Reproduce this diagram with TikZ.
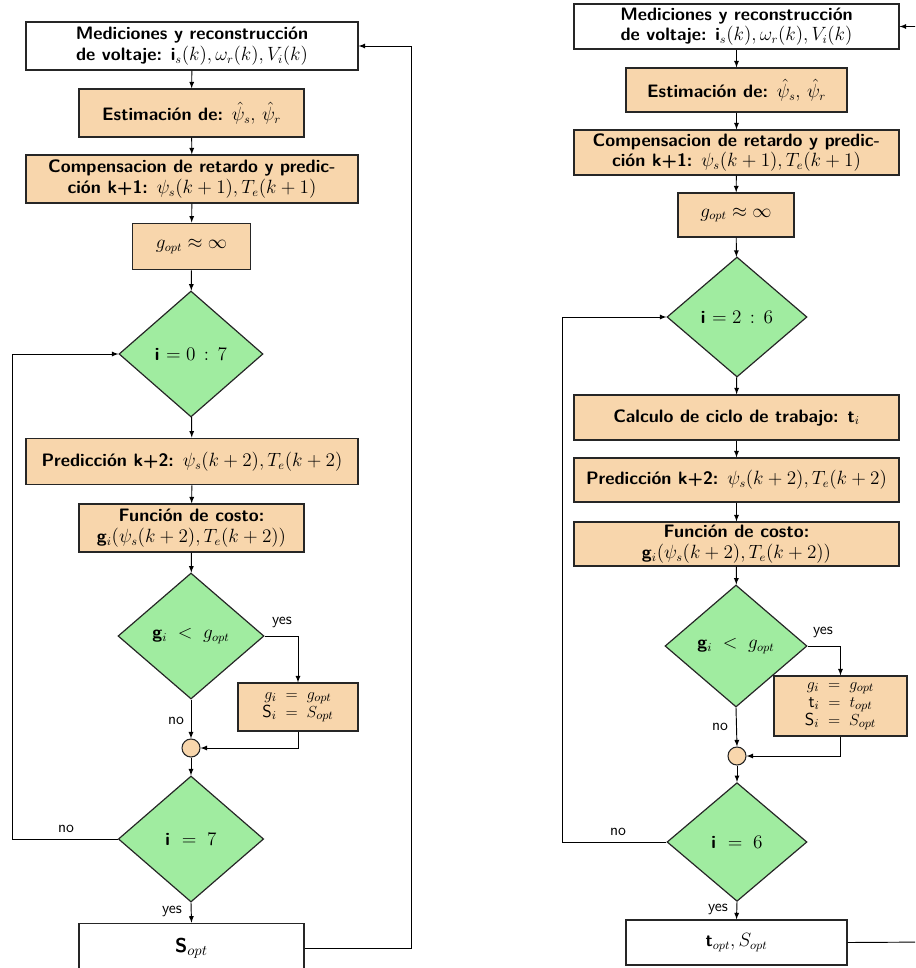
\documentclass[tikz,border=0pt]{standalone}
\usepackage{fontspec}
\usepackage{amsmath}
\usepackage{tikz}
\usetikzlibrary{arrows,shapes.geometric}

\definecolor{naranja}{RGB}{248,214,172}
\definecolor{verde}{RGB}{160,236,160}

\tikzset{
  caja/.style={draw=black!85, line width=0.9pt, fill=naranja, align=center, inner sep=2pt,
    font=\sffamily\bfseries\fontsize{13.5}{15.5}\selectfont},
  blanco/.style={caja, fill=white},
  rombo/.style={diamond, draw=black!85, line width=0.9pt, fill=verde, inner sep=0pt,
    font=\sffamily\bfseries\fontsize{13.5}{15.5}\selectfont},
  asigna/.style={caja, font=\sffamily\fontsize{13}{13.5}\selectfont},
  union/.style={circle, draw=black!85, line width=0.8pt, fill=naranja, minimum size=13.5pt, inner sep=0pt},
  flecha/.style={-latex, line width=0.7pt},
  etiq/.style={font=\sffamily\fontsize{12}{14}\selectfont, inner sep=1pt}
}

\begin{document}
\begin{tikzpicture}[x=0.75pt,y=0.75pt,yscale=-1,xscale=1]
\useasboundingbox (0,0) rectangle (915,968);
\clip (0,0) rectangle (915,968);

%%% left chart: i = 0:7
% Text Node
\node[blanco, minimum width=249pt, minimum height=36pt] (m1) at (192,46)
  {Mediciones y reconstrucción\\de voltaje: \textbf{i}$_s(k),\omega_r(k),V_i(k)$};
% Text Node
\node[caja, minimum width=168.75pt, minimum height=36pt] (e1) at (191.5,113)
  {Estimación de: $\hat{\psi}_s,\,\hat{\psi}_r$};
% Text Node
\node[caja, minimum width=249pt, minimum height=36pt] (c1) at (192,179)
  {Compensacion de retardo y predic-\\ción k+1: $\psi_s(k+1),T_e(k+1)$};
% Text Node
\node[caja, minimum width=89pt, minimum height=35pt] (g1) at (191.5,246.5)
  {$g_{opt}\approx\infty$};
%Shape: Diamond
\node[rombo, minimum width=108pt, minimum height=94.5pt] (d1) at (191,354)
  {i $=0\,:\,7$};
% Text Node
\node[caja, minimum width=249pt, minimum height=35pt] (p1) at (192,461.5)
  {Predicción k+2: $\psi_s(k+2),T_e(k+2)$};
% Text Node
\node[caja, minimum width=168.75pt, minimum height=36pt] (f1) at (191.5,528)
  {Función de costo:\\\textbf{g}$_i(\psi_s(k+2),T_e(k+2))$};
%Shape: Diamond
\node[rombo, minimum width=109.5pt, minimum height=94.5pt] (d2) at (191,636)
  {\textbf{g}$_i\;<\;g_{opt}$};
% Text Node
\node[asigna, minimum width=90pt, minimum height=36pt] (o1) at (298,707)
  {$g_i\;=\;g_{opt}$\\S$_i\;=\;S_{opt}$};
%Shape: Circle
\node[union] (j1) at (191,748) {};
%Shape: Diamond
\node[rombo, minimum width=109pt, minimum height=94.5pt] (d3) at (191,839)
  {i $\;=\;7$};
% Text Node
\node[blanco, minimum width=168.75pt, minimum height=37pt] (s1) at (191.5,948)
  {\fontsize{15}{17}\selectfont S$_{opt}$};

\coordinate (l1) at (12,839);
\coordinate (r1) at (411,948);
\coordinate (r1b) at (411,46);

%Straight Lines
\draw[flecha] (m1) -- (e1);
\draw[flecha] (e1) -- (c1);
\draw[flecha] (c1) -- (g1);
\draw[flecha] (g1) -- (d1);
\draw[flecha] (d1) -- (p1);
\draw[flecha] (p1) -- (f1);
\draw[flecha] (f1) -- (d2);
\draw[flecha] (d2.east) -| (o1.north);
\draw[flecha] (d2.south) -- (j1.north);
\draw[flecha] (o1.south) |- (j1.east);
\draw[flecha] (j1.south) -- (d3.north);
\draw[flecha] (d3.south) -- (s1.north);
\draw[flecha] (d3.west) -- (l1) |- (d1.west);
\draw[flecha] (s1.east) -- (r1) -- (r1b) -- (m1.east);

% Text Node
\node[etiq] (y1) at (282,622) {yes};
\node[etiq] (n1) at (176,721) {no};
\node[etiq] (n2) at (66,829) {no};
\node[etiq] (y2) at (172,911) {yes};

%%% right chart: i = 2:6
% Text Node
\node[blanco, minimum width=243.75pt, minimum height=33.75pt] (m2) at (736.5,26.5)
  {Mediciones y reconstrucción\\de voltaje: \textbf{i}$_s(k),\omega_r(k),V_i(k)$};
% Text Node
\node[caja, minimum width=165.75pt, minimum height=33pt] (e2) at (736.5,90)
  {Estimación de: $\hat{\psi}_s,\,\hat{\psi}_r$};
% Text Node
\node[caja, minimum width=243.75pt, minimum height=33.75pt] (c2) at (736.5,152.5)
  {Compensacion de retardo y predic-\\ción k+1: $\psi_s(k+1),T_e(k+1)$};
% Text Node
\node[caja, minimum width=87pt, minimum height=33pt] (g2) at (736,215)
  {$g_{opt}\approx\infty$};
%Shape: Diamond
\node[rombo, minimum width=105pt, minimum height=90pt] (d4) at (737,317)
  {i $=2\,:\,6$};
% Text Node
\node[caja, minimum width=243.75pt, minimum height=33.75pt] (t2) at (736.5,417.5)
  {Calculo de ciclo de trabajo: t$_i$};
% Text Node
\node[caja, minimum width=243.75pt, minimum height=33pt] (p2) at (736.5,480)
  {Predicción k+2: $\psi_s(k+2),T_e(k+2)$};
% Text Node
\node[caja, minimum width=243.75pt, minimum height=33pt] (f2) at (736.5,544)
  {Función de costo:\\\textbf{g}$_i(\psi_s(k+2),T_e(k+2))$};
%Shape: Diamond
\node[rombo, minimum width=106.5pt, minimum height=91.5pt] (d5) at (736,646)
  {\textbf{g}$_i\;<\;g_{opt}$};
% Text Node
\node[asigna, minimum width=99.75pt, minimum height=45pt] (o2) at (840.5,706)
  {$g_i\;=\;g_{opt}$\\t$_i\;=\;t_{opt}$\\S$_i\;=\;S_{opt}$};
%Shape: Circle
\node[union] (j2) at (737,756) {};
%Shape: Diamond
\node[rombo, minimum width=105pt, minimum height=89pt] (d6) at (737,842)
  {i $\;=\;6$};
% Text Node
\node[blanco, minimum width=165.75pt, minimum height=33.75pt] (s2) at (736.5,942.5)
  {\textbf{t}$_{opt},S_{opt}$};

\coordinate (l2) at (562,842);
\coordinate (r2) at (935,942);

%Straight Lines
\draw[flecha] (m2) -- (e2);
\draw[flecha] (e2) -- (c2);
\draw[flecha] (c2) -- (g2);
\draw[flecha] (g2) -- (d4);
\draw[flecha] (d4) -- (t2);
\draw[flecha] (t2) -- (p2);
\draw[flecha] (p2) -- (f2);
\draw[flecha] (f2) -- (d5);
\draw[flecha] (d5.east) -| (o2.north);
\draw[flecha] (d5.south) -- (j2.north);
\draw[flecha] (o2.south) |- (j2.east);
\draw[flecha] (j2.south) -- (d6.north);
\draw[flecha] (d6.south) -- (s2.north);
\draw[flecha] (d6.west) -- (l2) |- (d4.west);
\draw[flecha] (s2.east) -- (r2) |- (m2.east);

% Text Node
\node[etiq] (y3) at (823,632) {yes};
\node[etiq] (n3) at (720,727) {no};
\node[etiq] (n4) at (618,832) {no};
\node[etiq] (y4) at (718,909) {yes};

\end{tikzpicture}
\end{document}
